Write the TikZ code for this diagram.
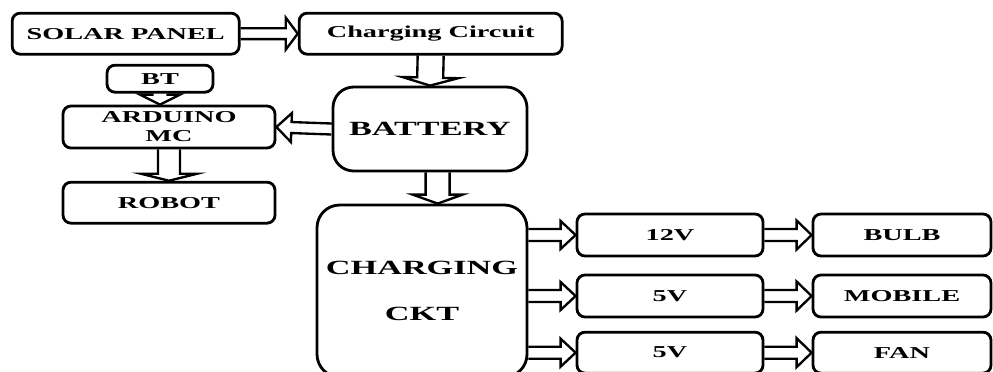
\documentclass[tikz,border=0pt]{standalone}
\usepackage{fontspec}
\setmainfont{Liberation Serif}[FakeStretch=1.7]
\usepackage{tikz}
\usetikzlibrary{calc}
\tikzset{
	blk/.style={draw, line width=2.4pt, rounded corners=0.24cm, inner sep=0pt,
		align=center, font=\fontsize{14.2}{16.2}\selectfont\bfseries},
	big/.style={blk, rounded corners=0.62cm, font=\fontsize{17.2}{20}\selectfont\bfseries},
	harrow/.style n args={3}{line width=2pt, line join=miter, to path={
		($(\tikztostart)!#1!90:(\tikztotarget)$)
		-- ($(\tikztotarget)!#3!(\tikztostart)!#1!90:(\tikztotarget)$)
		-- ($(\tikztotarget)!#3!(\tikztostart)!#2!90:(\tikztotarget)$)
		-- (\tikztotarget)
		-- ($(\tikztotarget)!#3!(\tikztostart)!#2!-90:(\tikztotarget)$)
		-- ($(\tikztotarget)!#3!(\tikztostart)!#1!-90:(\tikztotarget)$)
		-- ($(\tikztostart)!#1!-90:(\tikztotarget)$) \tikztonodes}},
}
\begin{document}
\begin{tikzpicture}[x=1cm, y=1cm]
	\clip (0,0) rectangle (29.79,-11.13);
	\node[blk, minimum width=6.81cm, minimum height=1.23cm] at (3.77,-1.01) (sp) {SOLAR PANEL};
	\node[blk, minimum width=7.89cm, minimum height=1.23cm] at (12.92,-1.01) (cc) {Charging Circuit};
	\node[blk, minimum width=3.18cm, minimum height=0.81cm] at (4.80,-2.36) (bt) {BT};
	\node[blk, minimum width=6.36cm, minimum height=1.26cm] at (5.07,-3.81) (ard) {ARDUINO\\MC};
	\node[blk, minimum width=6.36cm, minimum height=1.23cm] at (5.07,-6.08) (rob) {ROBOT};
	\node[big, minimum width=5.82cm, minimum height=2.52cm] at (12.90,-3.87) (bat) {BATTERY};
	\node[big, rounded corners=0.68cm, minimum width=6.30cm, minimum height=5.16cm] at (12.66,-8.73) (ckt) {CHARGING\\[0.68cm]CKT};
	\node[blk, minimum width=5.58cm, minimum height=1.26cm] at (20.10,-7.05) (v12) {12V};
	\node[blk, minimum width=5.58cm, minimum height=1.26cm] at (20.10,-8.88) (v5a) {5V};
	\node[blk, minimum width=5.58cm, minimum height=1.23cm] at (20.10,-10.58) (v5b) {5V};
	\node[blk, minimum width=5.34cm, minimum height=1.26cm] at (27.06,-7.05) (bulb) {BULB};
	\node[blk, minimum width=5.34cm, minimum height=1.26cm] at (27.06,-8.88) (mob) {MOBILE};
	\node[blk, minimum width=5.34cm, minimum height=1.23cm] at (27.06,-10.58) (fan) {FAN};
	% power path
	\draw[harrow={0.165cm}{0.48cm}{0.36cm}] (sp.east) to (cc.west);
	\draw[harrow={0.39cm}{0.84cm}{0.24cm}] (cc.south) to (bat.north);
	\draw[harrow={0.165cm}{0.435cm}{0.45cm}] (bat.west) to (ard.east);
	\draw[harrow={0.225cm}{0.60cm}{0.30cm}] (bt.south) to (bt.south |- ard.north);
	\draw[harrow={0.33cm}{0.84cm}{0.21cm}] (ard.south) to (rob.north);
	\draw[harrow={0.36cm}{0.75cm}{0.27cm}] (bat.-80) to (bat.-80 |- ckt.north);
	% outputs
	\draw[harrow={0.18cm}{0.42cm}{0.45cm}] (v12.west -| ckt.east) to (v12.west);
	\draw[harrow={0.18cm}{0.42cm}{0.45cm}] (v5a.west -| ckt.east) to (v5a.west);
	\draw[harrow={0.18cm}{0.42cm}{0.45cm}] (v5b.west -| ckt.east) to (v5b.west);
	\draw[harrow={0.18cm}{0.435cm}{0.45cm}] (v12.east) to (bulb.west);
	\draw[harrow={0.18cm}{0.435cm}{0.45cm}] (v5a.east) to (mob.west);
	\draw[harrow={0.18cm}{0.435cm}{0.45cm}] (v5b.east) to (fan.west);
\end{tikzpicture}
\end{document}
